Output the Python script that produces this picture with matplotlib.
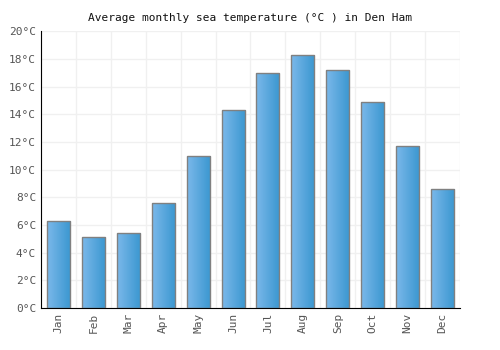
import matplotlib.pyplot as plt
import numpy as np
from matplotlib.colors import LinearSegmentedColormap

months = ["Jan", "Feb", "Mar", "Apr", "May", "Jun",
          "Jul", "Aug", "Sep", "Oct", "Nov", "Dec"]
temps = [6.3, 5.1, 5.4, 7.6, 11.0, 14.3, 17.0, 18.3, 17.2, 14.9, 11.7, 8.6]
yticks = [0, 2, 4, 6, 8, 10, 12, 14, 16, 18, 20]
ylabels = [f"{t}°C" for t in yticks]

plt.rcParams["font.family"] = ["DejaVu Sans Mono"]

fig = plt.figure(figsize=(5, 3.5), dpi=100)
ax = fig.add_axes([0.082, 0.12, 0.838, 0.791])

x = np.arange(len(months))
bars = ax.bar(x, temps, width=0.66, color="none", edgecolor="#808080",
              linewidth=1, zorder=3)

# horizontal gradient inside each bar
cmap = LinearSegmentedColormap.from_list("g", ["#7bb8ea", "#3a97d0"])
grad = np.linspace(0, 1, 64).reshape(1, -1)
for b in bars:
    x0, w, h = b.get_x(), b.get_width(), b.get_height()
    im = ax.imshow(grad, cmap=cmap, aspect="auto",
                   extent=[x0, x0 + w, 0, h], zorder=2)
    im.set_clip_path(b)

ax.set_xlim(-0.5, len(months) - 0.5)
ax.set_ylim(0, 20)
ax.set_xticks(x)
ax.set_xticklabels(months, rotation=90, fontsize=8, color="#555555")
ax.set_yticks(yticks)
ax.set_yticklabels(ylabels, fontsize=8, color="#555555")
ax.set_xticks(np.arange(-0.5, len(months)), minor=True)
ax.tick_params(axis="both", which="both", length=0)
ax.grid(True, which="minor", axis="x", color="#f0f0f0", linewidth=1, zorder=0)
ax.grid(True, which="major", axis="y", color="#f0f0f0", linewidth=1, zorder=0)
ax.set_axisbelow(True)

for s in ["top", "right"]:
    ax.spines[s].set_visible(False)
ax.spines["left"].set_color("black")
ax.spines["bottom"].set_color("black")

ax.set_title("Average monthly sea temperature (°C ) in Den Ham",
             fontsize=8, color="#111111", pad=7)

fig.savefig("out.png", dpi=100)
